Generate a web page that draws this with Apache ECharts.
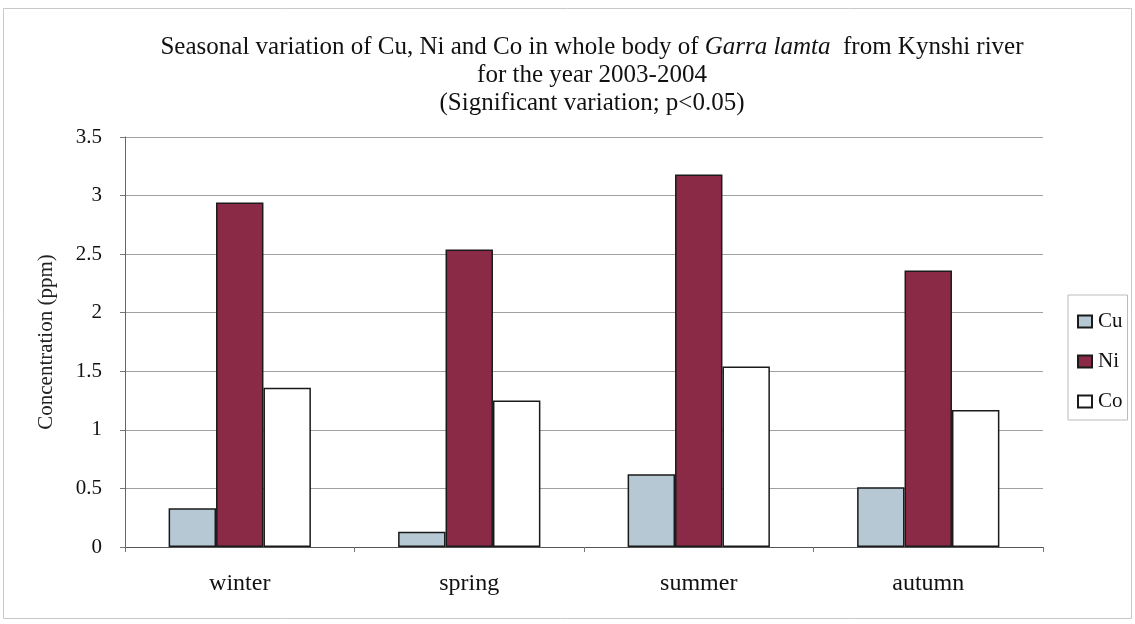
<!DOCTYPE html>
<html>
<head>
<meta charset="utf-8">
<script src="https://cdn.jsdelivr.net/npm/echarts@6/dist/echarts.min.js"></script>
<style>
  html, body { margin: 0; padding: 0; background: #fff; }
  #chart { width: 1135px; height: 624px; }
</style>
</head>
<body>
<div id="chart"></div>
<script>
// seasons on the x axis
const seasons = ['winter', 'spring', 'summer', 'autumn'];
// concentrations (ppm)
const cuValues = [0.33, 0.13, 0.62, 0.51];
const niValues = [2.94, 2.54, 3.18, 2.36];
const coValues = [1.36, 1.25, 1.54, 1.17];
const yTicks = ['0', '0.5', '1', '1.5', '2', '2.5', '3', '3.5'];

const serif = '"Liberation Serif", "DejaVu Serif", serif';

let myChart = echarts.init(document.getElementById('chart'));

const barStyle = (fill) => ({
  color: fill,
  borderColor: '#1a1a1a',
  borderWidth: 1.5
});

const option = {
  backgroundColor: '#fff',
  animation: false,
  title: {
    text: 'Seasonal variation of Cu, Ni and Co in whole body of {i|Garra lamta}  from Kynshi river\nfor the year 2003-2004\n(Significant variation; p<0.05)',
    left: 587,
    textAlign: 'center',
    top: 28,
    textStyle: {
      fontFamily: serif,
      fontWeight: 'normal',
      fontSize: 25,
      color: '#111',
      lineHeight: 28,
      rich: {
        i: { fontFamily: serif, fontStyle: 'italic', fontSize: 25, color: '#111', lineHeight: 28 }
      }
    }
  },
  legend: {
    orient: 'vertical',
    left: 1068,
    top: 295,
    padding: [16, 5, 8, 9],
    itemGap: 19,
    itemWidth: 14,
    itemHeight: 12,
    icon: 'rect',
    borderColor: '#bbb',
    borderWidth: 1,
    textStyle: { fontFamily: serif, fontSize: 21, color: '#111', padding: [0, 0, 0, 1] },
    data: ['Cu', 'Ni', 'Co']
  },
  grid: {
    left: 125,
    right: 92,
    top: 137,
    bottom: 77,
    containLabel: false
  },
  xAxis: {
    type: 'category',
    data: seasons,
    axisLine: { lineStyle: { color: '#555', width: 1 } },
    axisTick: { show: true, length: 5, lineStyle: { color: '#777' } },
    axisLabel: { fontFamily: serif, fontSize: 24, color: '#111', margin: 25 }
  },
  yAxis: {
    type: 'value',
    min: 0,
    max: 3.5,
    interval: 0.5,
    name: 'Concentration (ppm)',
    nameLocation: 'middle',
    nameGap: 68,
    nameTextStyle: { fontFamily: serif, fontSize: 21, color: '#222' },
    axisLine: { show: true, lineStyle: { color: '#666', width: 1 } },
    axisTick: { show: true, length: 5, lineStyle: { color: '#777' } },
    axisLabel: {
      fontFamily: serif,
      fontSize: 21,
      color: '#111',
      margin: 23,
      formatter: (v) => yTicks[Math.round(v / 0.5)]
    },
    splitLine: { lineStyle: { color: '#a0a0a0', width: 1 } }
  },
  series: [
    {
      name: 'Cu',
      type: 'bar',
      data: cuValues,
      barGap: '0%',
      barCategoryGap: '38%',
      itemStyle: barStyle('#b6c8d3')
    },
    {
      name: 'Ni',
      type: 'bar',
      data: niValues,
      barGap: '0%',
      barCategoryGap: '38%',
      itemStyle: barStyle('#8a2a47')
    },
    {
      name: 'Co',
      type: 'bar',
      data: coValues,
      barGap: '0%',
      barCategoryGap: '38%',
      itemStyle: barStyle('#ffffff')
    }
  ],
  graphic: [
    {
      type: 'rect',
      shape: { x: 3.5, y: 8.5, width: 1128, height: 610 },
      style: { fill: 'none', stroke: '#c8c8c8', lineWidth: 1 },
      silent: true,
      z: -1
    }
  ]
};

myChart.setOption(option);
</script>
</body>
</html>
